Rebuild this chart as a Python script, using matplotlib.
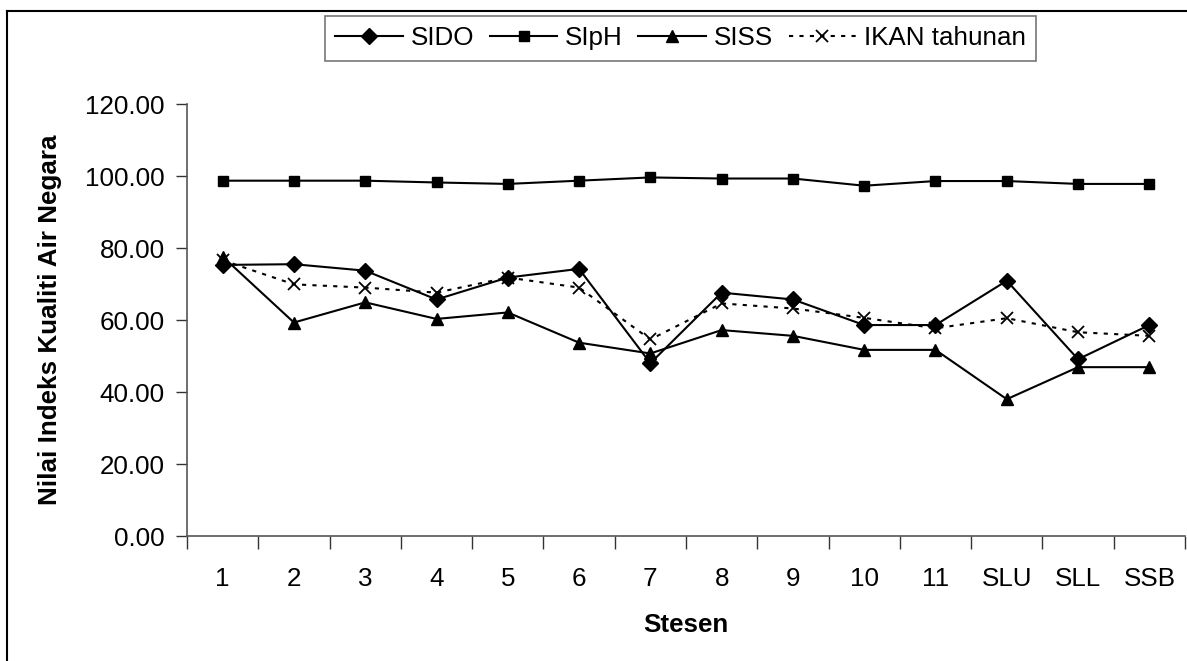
import matplotlib
matplotlib.use("Agg")
import matplotlib.pyplot as plt
from matplotlib.lines import Line2D

plt.rcParams['font.family'] = ['Liberation Sans', 'DejaVu Sans']

stations = ["1", "2", "3", "4", "5", "6", "7", "8", "9", "10", "11", "SLU", "SLL", "SSB"]
sido = [75.3, 75.5, 73.7, 65.7, 71.8, 74.2, 48.0, 67.6, 65.7, 58.6, 58.6, 70.9, 49.1, 58.6]
siph = [98.7, 98.7, 98.7, 98.2, 97.8, 98.7, 99.6, 99.3, 99.3, 97.3, 98.6, 98.6, 97.8, 97.8]
siss = [77.6, 59.3, 64.9, 60.3, 62.1, 53.7, 50.7, 57.2, 55.6, 51.7, 51.7, 38.0, 46.9, 46.9]
ikan = [76.6, 69.9, 69.0, 67.6, 71.8, 69.0, 54.6, 64.6, 63.2, 60.6, 57.7, 60.5, 56.6, 55.6]
yticks = [0, 20, 40, 60, 80, 100, 120]

W, H = 1187, 661
fig = plt.figure(figsize=(W / 100, H / 100), dpi=100)
ax = fig.add_axes([187 / W, 1 - 536 / H, (1185 - 187) / W, (536 - 104) / H])

x = list(range(len(stations)))
lw = 1.5
ax.plot(x, sido, color='black', lw=lw, marker='D', ms=8.3, label='SIDO', clip_on=False)
ax.plot(x, siph, color='black', lw=lw, marker='s', ms=7.5, label='SIpH', clip_on=False)
ax.plot(x, siss, color='black', lw=lw, marker='^', ms=8.5, label='SISS', clip_on=False)
ax.plot(x, ikan, color='black', lw=lw, marker='x', ms=8, mew=1.3, dashes=(2, 3),
        label='IKAN tahunan', clip_on=False)

ax.set_xlim(-0.5, len(stations) - 0.5)
ax.set_ylim(0, 120)

fs = 18.7
ax.set_yticks(yticks)
ax.set_yticklabels([f"{v:.2f}" for v in yticks], fontsize=fs)
ax.tick_params(axis='y', direction='out', length=8, width=1, pad=8, color='#333333')

ax.set_xticks([i - 0.5 for i in range(len(stations) + 1)])
ax.set_xticklabels([])
ax.set_xticks(x, minor=True)
ax.set_xticklabels(stations, minor=True, fontsize=fs)
ax.tick_params(axis='x', which='major', direction='out', length=9, width=1, color='#333333')
ax.tick_params(axis='x', which='minor', length=0, pad=22)

for s in ['top', 'right']:
    ax.spines[s].set_visible(False)
for s in ['left', 'bottom']:
    ax.spines[s].set_color('#555555')
    ax.spines[s].set_linewidth(1.2)

fig.text(50 / W, 1 - 320 / H, "Nilai Indeks Kualiti Air Negara", rotation=90,
         fontsize=fs, fontweight='bold', ha='center', va='center')
fig.text(686 / W, 1 - 625 / H, "Stesen", fontsize=fs, fontweight='bold',
         ha='center', va='center')

leg = fig.legend(loc='upper left', bbox_to_anchor=(325 / W, 1 - 16 / H), ncol=4,
                 fontsize=fs, frameon=True, fancybox=False, edgecolor='#555555',
                 handlelength=2.6, handletextpad=0.3, columnspacing=0.6,
                 borderpad=0.4, borderaxespad=0)
leg.get_frame().set_linewidth(1.2)

# outer chart frame (left and top edges visible)
fig.add_artist(Line2D([7 / W, 7 / W], [0, 1 - 11 / H], transform=fig.transFigure,
                      color='black', lw=1.5))
fig.add_artist(Line2D([7 / W, 1], [1 - 11 / H, 1 - 11 / H], transform=fig.transFigure,
                      color='black', lw=1.5))

fig.savefig("out.png", dpi=100)
